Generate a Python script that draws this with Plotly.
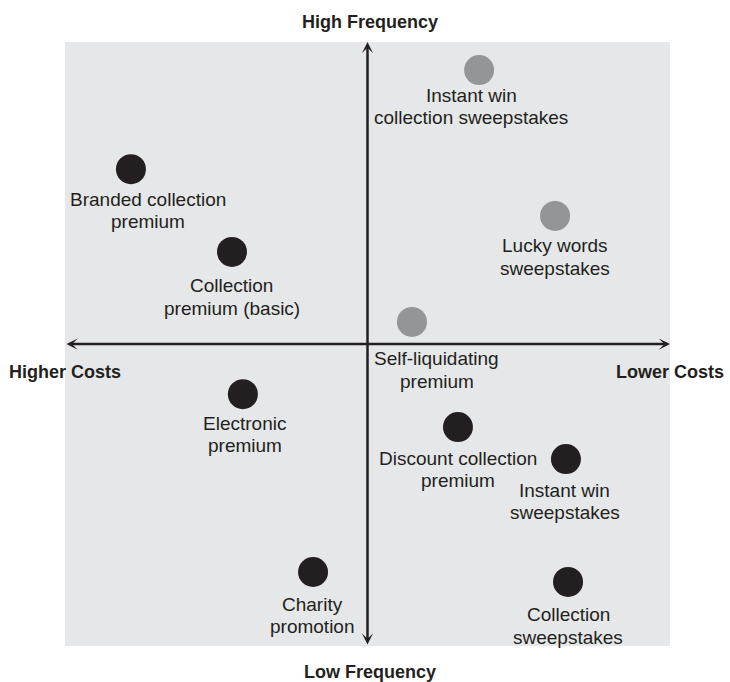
import plotly.graph_objects as go

# ---- data ----
names = [
    "Instant win<br>collection sweepstakes",
    "Branded collection<br>premium",
    "Lucky words<br>sweepstakes",
    "Collection<br>premium (basic)",
    "Self-liquidating<br>premium",
    "Electronic<br>premium",
    "Discount collection<br>premium",
    "Instant win<br>sweepstakes",
    "Charity<br>promotion",
    "Collection<br>sweepstakes",
]
cost = [3.69, -7.82, 6.20, -4.48, 1.47, -4.12, 2.99, 6.56, -1.80, 6.63]
frequency = [9.07, 5.79, 4.24, 3.05, 0.73, -1.66, -2.75, -3.81, -7.55, -7.88]
group = ["sweepstakes", "premium", "sweepstakes", "premium", "sweepstakes",
         "premium", "premium", "premium", "premium", "premium"]
axis_labels = {"top": "High Frequency", "bottom": "Low Frequency",
               "left": "Higher Costs", "right": "Lower Costs"}

# ---- style ----
INK = "#231f20"
BG = "#e6e7e8"
GREY = "#939598"
FONT = "Liberation Sans, Arial, Helvetica, sans-serif"
colors = {"sweepstakes": GREY, "premium": INK}
# label pixel offsets (dx, dy of first line below marker centre)
label_off = [(-8, 25), (17, 30), (0, 30), (0, 34), (25, 37),
             (2, 29), (0, 31), (-1, 31), (-1, 32), (0, 33)]
LINE_GAP = 22.5

fig = go.Figure()
fig.add_trace(go.Scatter(
    x=cost, y=frequency, mode="markers",
    marker=dict(size=30, color=[colors[g] for g in group], line=dict(width=0)),
    hoverinfo="skip", showlegend=False,
))

annotations = []
# axis arrows
for hx, hy, tx, ty in [(10, 0, -10, 0), (0, 10, 0, -10)]:
    annotations.append(dict(x=hx, y=hy, ax=tx, ay=ty, xref="x", yref="y", axref="x", ayref="y",
                            text="", showarrow=True, arrowhead=3, startarrowhead=3,
                            arrowside="end+start", arrowsize=0.75, startarrowsize=0.75,
                            arrowwidth=2.5, arrowcolor=INK, standoff=0, startstandoff=0))

# point labels
for n, cx, fy, (dx, dy) in zip(names, cost, frequency, label_off):
    for i, line in enumerate(n.split("<br>")):
        annotations.append(dict(x=cx, y=fy, xref="x", yref="y", text=line, showarrow=False,
                                xanchor="center", yanchor="middle",
                                xshift=dx, yshift=-(dy + i * LINE_GAP),
                                font=dict(family=FONT, size=19, color=INK)))

bold = dict(family=FONT, size=18, color=INK)
annotations += [
    dict(x=0.08, y=1, xref="x", yref="paper", text="<b>%s</b>" % axis_labels["top"],
         showarrow=False, yanchor="middle", yshift=20, font=bold),
    dict(x=0.08, y=0, xref="x", yref="paper", text="<b>%s</b>" % axis_labels["bottom"],
         showarrow=False, yanchor="middle", yshift=-26, font=bold),
    dict(x=-10, y=0, xref="x", yref="y", text="<b>%s</b>" % axis_labels["left"],
         showarrow=False, xanchor="center", yanchor="middle", yshift=-28, font=bold),
    dict(x=10, y=0, xref="x", yref="y", text="<b>%s</b>" % axis_labels["right"],
         showarrow=False, xanchor="center", yanchor="middle", yshift=-28, font=bold),
]

fig.update_layout(
    width=730, height=682,
    margin=dict(l=65, r=60, t=42, b=36),
    paper_bgcolor="white", plot_bgcolor=BG,
    xaxis=dict(range=[-10, 10], showgrid=False, zeroline=False, showticklabels=False,
               showline=False, ticks="", fixedrange=True),
    yaxis=dict(range=[-10, 10], showgrid=False, zeroline=False, showticklabels=False,
               showline=False, ticks="", fixedrange=True),
    annotations=annotations,
    showlegend=False,
)

fig.write_html("out.html", config={"displayModeBar": False},
               post_script="document.body.style.margin='0';document.body.style.overflow='hidden';")
